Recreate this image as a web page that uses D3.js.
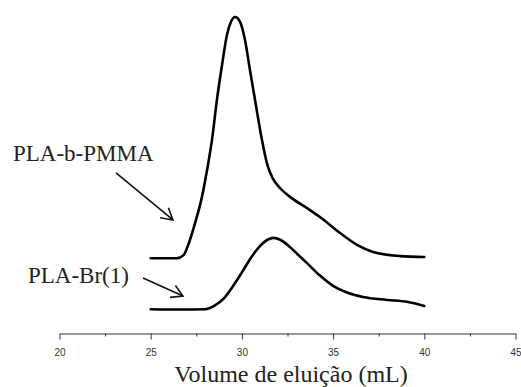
<!DOCTYPE html>
<html>
<head>
<meta charset="utf-8">
<script src="https://d3js.org/d3.v7.min.js"></script>
<style>
  body { margin: 0; background: #fff; }
  svg { display: block; }
</style>
</head>
<body>
<svg id="chart"></svg>
<script>
// Elution volume (mL) / detector signal (arbitrary units)
const pmmaVolume = [25.0, 26.44, 26.8, 26.99, 27.43, 27.81, 28.09, 28.36, 28.63, 28.91, 29.18, 29.40, 29.62, 29.90, 30.17, 30.44, 30.72, 31.10, 31.40, 31.70, 32.10, 32.64, 33.57, 34.28, 35.38, 36.31, 37.19, 38.67, 40.0];
const pmmaSignal = [22.4, 22.4, 23.4, 25.6, 33.4, 41.6, 50.0, 59.4, 71.9, 82.8, 92.2, 96.3, 97.8, 96.3, 90.6, 81.3, 71.9, 59.4, 51.5, 47.3, 44.3, 41.6, 38.1, 35.3, 30.3, 26.6, 24.4, 23.1, 22.8];

const brVolume = [25.0, 26.5, 28.0, 28.5, 29.0, 29.5, 30.0, 30.5, 31.0, 31.4, 31.75, 32.1, 32.64, 33.1, 33.57, 34.28, 35.0, 35.76, 36.64, 37.96, 39.05, 40.0];
const brSignal = [6.5, 6.4, 6.5, 7.6, 9.8, 13.6, 18.0, 22.6, 26.3, 28.2, 28.8, 28.2, 25.9, 23.4, 20.9, 17.0, 13.8, 11.7, 10.3, 9.4, 8.8, 7.5];

// x axis ticks
const majorTicks = [20, 25, 30, 35, 40, 45];
const minorTicks = [22.5, 27.5, 32.5, 37.5, 42.5];
const tickLabels = ["20", "25", "30", "35", "40", "45"];
const xTitle = "Volume de eluição (mL)";

// Series labels with their arrows (text anchor, arrow tail, arrow tip in data units)
const labelNames = ["PLA-b-PMMA", "PLA-Br(1)"];
const labelAt = [[17.45, 52.8], [18.27, 14.7]];
const arrowFrom = [[23.1, 49.1], [24.58, 16.25]];
const arrowTo = [[26.22, 34.4], [26.77, 10.6]];

const width = 521;
const height = 387;

const svg = d3.select("#chart")
              .attr("width", width)
              .attr("height", height);

// Scales
const x = d3.scaleLinear()
            .domain([20, 45])
            .range([59.5, 515.5]);
const y = d3.scaleLinear()
            .domain([0, 100])
            .range([330, 10]);

const axisY = 333.5;

// Minor ticks first (short, no labels)
svg.append("g")
   .attr("transform", `translate(0,${axisY})`)
   .call(d3.axisBottom(x)
           .tickValues(minorTicks)
           .tickSize(3)
           .tickFormat(""))
   .call(g => g.select(".domain").remove())
   .call(g => g.selectAll("line").attr("stroke", "#333"));

// Major ticks with labels
svg.append("g")
   .attr("transform", `translate(0,${axisY})`)
   .call(d3.axisBottom(x)
           .tickValues(majorTicks)
           .tickSize(6)
           .tickSizeOuter(0)
           .tickPadding(9)
           .tickFormat((d, i) => tickLabels[i]))
   .call(g => g.select(".domain").attr("stroke", "#333"))
   .call(g => g.selectAll("line").attr("stroke", "#333"))
   .call(g => g.selectAll("text")
               .attr("fill", "#333")
               .attr("font-family", "'Liberation Sans', Arial, sans-serif")
               .attr("font-size", "10px"));

// Axis title
svg.append("text")
   .attr("x", 291)
   .attr("y", 382)
   .attr("text-anchor", "middle")
   .attr("font-family", "'Liberation Serif', 'Times New Roman', serif")
   .attr("font-size", "24px")
   .attr("fill", "#222")
   .text(xTitle);

// Traces
const line = d3.line()
               .x(d => x(d[0]))
               .y(d => y(d[1]))
               .curve(d3.curveMonotoneX);

const series = [
   d3.zip(pmmaVolume, pmmaSignal),
   d3.zip(brVolume, brSignal)
];

svg.selectAll("path.trace")
   .data(series)
   .enter()
   .append("path")
   .attr("class", "trace")
   .attr("d", line)
   .attr("fill", "none")
   .attr("stroke", "#000")
   .attr("stroke-width", 2.6)
   .attr("stroke-linejoin", "round")
   .attr("stroke-linecap", "round");

// Labels
svg.selectAll("text.label")
   .data(labelNames)
   .enter()
   .append("text")
   .attr("class", "label")
   .attr("x", (d, i) => x(labelAt[i][0]))
   .attr("y", (d, i) => y(labelAt[i][1]))
   .attr("font-family", "'Liberation Serif', 'Times New Roman', serif")
   .attr("font-size", "23px")
   .attr("fill", "#222")
   .text(d => d);

// Arrows: shaft + open head
const headLen = 13;
const headAngle = 30 * Math.PI / 180;
const arrowPath = (i) => {
   const x0 = x(arrowFrom[i][0]), y0 = y(arrowFrom[i][1]);
   const x1 = x(arrowTo[i][0]), y1 = y(arrowTo[i][1]);
   const a = Math.atan2(y0 - y1, x0 - x1);
   const p = d3.path();
   p.moveTo(x0, y0);
   p.lineTo(x1, y1);
   p.moveTo(x1 + headLen * Math.cos(a - headAngle), y1 + headLen * Math.sin(a - headAngle));
   p.lineTo(x1, y1);
   p.lineTo(x1 + headLen * Math.cos(a + headAngle), y1 + headLen * Math.sin(a + headAngle));
   return p.toString();
};

svg.selectAll("path.arrow")
   .data(labelNames)
   .enter()
   .append("path")
   .attr("class", "arrow")
   .attr("d", (d, i) => arrowPath(i))
   .attr("fill", "none")
   .attr("stroke", "#111")
   .attr("stroke-width", 1.6);
</script>
</body>
</html>
